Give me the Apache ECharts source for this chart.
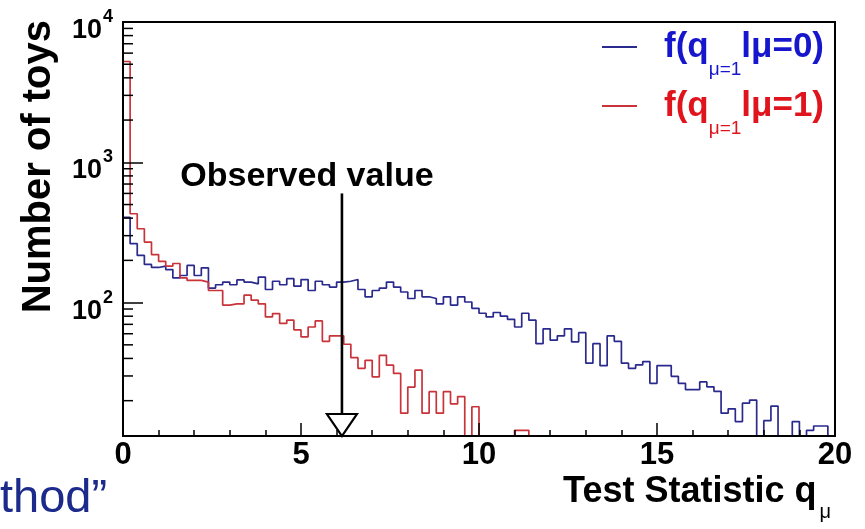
<!DOCTYPE html>
<html>
<head>
<meta charset="utf-8">
<script src="https://cdn.jsdelivr.net/npm/echarts@6/dist/echarts.min.js"></script>
<style>
html,body{margin:0;padding:0;background:#fff;}
#chart{width:865px;height:529px;}
</style>
</head>
<body>
<div id="chart"></div>
<script>
// ---- data ----
const binWidth = 0.2;             // 100 bins over [0, 20]
const Y_MIN = 11.2, Y_MAX = 10000;
const obsValue = 6.15;            // observed value of q_mu
const obsArrowTop = 600;          // arrow starts at this count level

// f(q_{mu=1} | mu=0)  (blue)
const blueCounts = [
  406, 263, 217, 187, 178, 182, 172, 150, 156, 184,
  156, 177, 127, 134, 140, 134, 145, 140, 136, 152,
  124, 142, 134, 148, 131, 146, 122, 142, 134, 129,
  140, 142, 146, 124, 110, 122, 127, 140, 129, 119,
  107, 122, 110, 107, 98, 110, 96, 110, 101, 91,
  84, 79, 85, 80, 76, 67, 84, 75, 51, 65,
  54, 58, 65, 52.5, 61, 37, 51, 35.5, 58, 53,
  37, 34, 36, 38, 26.6, 35.6, 35.6, 29.8, 26.6, 24,
  24, 27.2, 25.1, 23.3, 16.3, 17.5, 14.2, 19.2, 20.2, 0,
  14.4, 18.3, 0, 0, 14.2, 0, 12.3, 13.2, 13.2, 0
];
// f(q_{mu=1} | mu=1)  (red)
const redCounts = [
  5230, 430, 336, 270, 220, 197, 182, 190, 150, 144,
  144, 140, 122, 122, 96, 98, 98, 113, 104, 98,
  79, 83.5, 71, 75, 64, 57, 67, 74, 53, 58,
  58, 50.5, 40.5, 34, 38.8, 29.6, 42, 35.8, 31.3, 16.3,
  25, 33, 16.3, 23.2, 16.3, 23.2, 19, 21.4, 0, 18.1,
  0, 0, 0, 0, 0, 12.3, 12.3, 0, 0, 0,
  0, 0, 0, 0, 0, 0, 0, 0, 0, 0,
  0, 0, 0, 0, 0, 0, 0, 0, 0, 0,
  0, 0, 0, 0, 0, 0, 0, 0, 0, 0,
  0, 0, 0, 0, 0, 0, 0, 0, 0, 0
];
const yMinorTicks = [20,30,40,50,60,70,80,90,200,300,400,500,600,700,800,900,2000,3000,4000,5000,6000,7000,8000,9000];
const seriesNames = ['mu0', 'mu1'];

// ---- build step data (bin left edges), empty bins drawn at the frame floor ----
function steps(counts) {
  const pts = counts.map((c, i) => [i * binWidth, c > 0 ? c : Y_MIN]);
  const last = counts[counts.length - 1];
  pts.push([counts.length * binWidth, last > 0 ? last : Y_MIN]);
  return pts;
}

const FONT = 'Liberation Sans';
const BLUE_LINE = '#2a2a8e', RED_LINE = '#c9333a';
const BLUE_TXT = '#1616cc', RED_TXT = '#e0141c';

const chart = echarts.init(document.getElementById('chart'), null, {renderer: 'canvas'});

function richSet(color) {
  return {
    first: {color: color, fontSize: 35, fontWeight: 'bold', fontFamily: FONT, lineHeight: 34, verticalAlign: 'top', padding: [0, 0, 0, 22]},
    main: {color: color, fontSize: 35, fontWeight: 'bold', fontFamily: FONT, lineHeight: 34, verticalAlign: 'top'},
    sub: {color: color, fontSize: 19, fontFamily: FONT, lineHeight: 20, verticalAlign: 'top', padding: [30, 0, 0, 0]}
  };
}
const rb = richSet(BLUE_TXT), rr = richSet(RED_TXT);

const option = {
  backgroundColor: '#fff',
  animation: false,
  textStyle: {fontFamily: FONT},
  grid: {left: 123, right: 30, top: 22, bottom: 93, show: true, borderColor: '#000', borderWidth: 2, backgroundColor: 'transparent'},
  legend: {
    orient: 'vertical', left: 597, top: 25, itemWidth: 35, itemHeight: 2, itemGap: 10,
    icon: 'rect',
    selectedMode: false,
    data: seriesNames,
    formatter: function (name) {
      return name === 'mu0'
        ? '{b1|f(q}{bs|μ=1}{bm|lμ=0)}'
        : '{r1|f(q}{rs|μ=1}{rm|lμ=1)}';
    },
    textStyle: {
      rich: {
        b1: rb.first, bm: rb.main, bs: rb.sub,
        r1: rr.first, rm: rr.main, rs: rr.sub
      }
    }
  },
  xAxis: {
    type: 'value', min: 0, max: 20, interval: 5, z: 10,
    axisLine: {show: true, onZero: false, lineStyle: {color: '#000', width: 2}},
    axisTick: {show: true, inside: true, length: 13, lineStyle: {color: '#000', width: 1.5}},
    minorTick: {show: true, splitNumber: 5, length: 6, lineStyle: {color: '#000', width: 1.5}},
    splitLine: {show: false},
    axisLabel: {color: '#000', fontSize: 31, fontWeight: 'bold', fontFamily: FONT, margin: 4},
    name: '{t|Test Statistic q}{m|μ}',
    nameLocation: 'end', nameGap: -4,
    nameTextStyle: {
      align: 'right', verticalAlign: 'top', padding: [38, 0, 0, 0],
      rich: {
        t: {fontSize: 36, fontWeight: 'bold', color: '#000', fontFamily: FONT, lineHeight: 36, verticalAlign: 'top'},
        m: {fontSize: 20, color: '#000', fontFamily: FONT, lineHeight: 20, verticalAlign: 'top', padding: [28, 0, 0, 3]}
      }
    }
  },
  yAxis: {
    type: 'log', logBase: 10, min: Y_MIN, max: Y_MAX, z: 10,
    axisLine: {show: true, lineStyle: {color: '#000', width: 2}},
    axisTick: {show: true, inside: true, length: 20, lineStyle: {color: '#000', width: 1.5}},
    splitLine: {show: false},
    axisLabel: {
      margin: 10,
      showMinLabel: true,
      formatter: function (v) {
        const e = Math.log10(v);
        if (Math.abs(e - Math.round(e)) > 1e-6) return '';
        return '{b|10}{s|' + Math.round(e) + '}';
      },
      rich: {
        b: {fontSize: 27, fontWeight: 'bold', color: '#000', fontFamily: FONT, lineHeight: 28, verticalAlign: 'top', padding: [9, 0, 0, 0]},
        s: {fontSize: 18, fontWeight: 'bold', color: '#000', fontFamily: FONT, lineHeight: 18, verticalAlign: 'top', padding: [0, 0, 0, 1]}
      }
    },
    name: 'Number of toys',
    nameLocation: 'end', nameRotate: 90, nameGap: 2,
    nameTextStyle: {fontSize: 40, fontWeight: 'bold', color: '#000', fontFamily: FONT, align: 'right', verticalAlign: 'bottom', padding: [0, 0, 64, 0]}
  },
  series: [
    {
      name: 'mu0', type: 'line', step: 'end', symbol: 'none', z: 3,
      color: BLUE_LINE,
      lineStyle: {color: BLUE_LINE, width: 1.7},
      data: steps(blueCounts)
    },
    {
      name: 'mu1', type: 'line', step: 'end', symbol: 'none', z: 3,
      color: RED_LINE,
      lineStyle: {color: RED_LINE, width: 1.7},
      data: steps(redCounts)
    },
    {
      name: 'yMinor', type: 'custom', z: 11, silent: true, clip: false,
      data: yMinorTicks.map(v => [0, v]),
      renderItem: function (params, api) {
        const p = api.coord([api.value(0), api.value(1)]);
        return {type: 'line', shape: {x1: p[0], y1: p[1], x2: p[0] + 10, y2: p[1]}, style: {stroke: '#000', lineWidth: 1.5}};
      }
    },
    {
      name: 'observed', type: 'custom', z: 12, silent: true, clip: false,
      data: [[obsValue, obsArrowTop, Y_MIN]],
      renderItem: function (params, api) {
        const top = api.coord([api.value(0), api.value(1)]);
        const bot = api.coord([api.value(0), api.value(2)]);
        const h = 22, w = 15;
        return {
          type: 'group',
          children: [
            {type: 'line', shape: {x1: top[0], y1: top[1], x2: bot[0], y2: bot[1] - h}, style: {stroke: '#000', lineWidth: 2.6}},
            {type: 'polygon', shape: {points: [[bot[0] - w, bot[1] - h], [bot[0] + w, bot[1] - h], [bot[0], bot[1]]]}, style: {fill: '#fff', stroke: '#000', lineWidth: 2.2}},
            {type: 'text', x: top[0] - 35, y: top[1] - 17, style: {text: 'Observed value', fill: '#000', font: 'bold 34px "Liberation Sans"', align: 'center', verticalAlign: 'middle'}}
          ]
        };
      }
    }
  ],
  graphic: [
    {type: 'text', left: 0, top: 476, style: {text: 'thod”', fill: '#1c2a8c', font: '47px "Liberation Sans"'}}
  ]
};
chart.setOption(option);
</script>
</body>
</html>
